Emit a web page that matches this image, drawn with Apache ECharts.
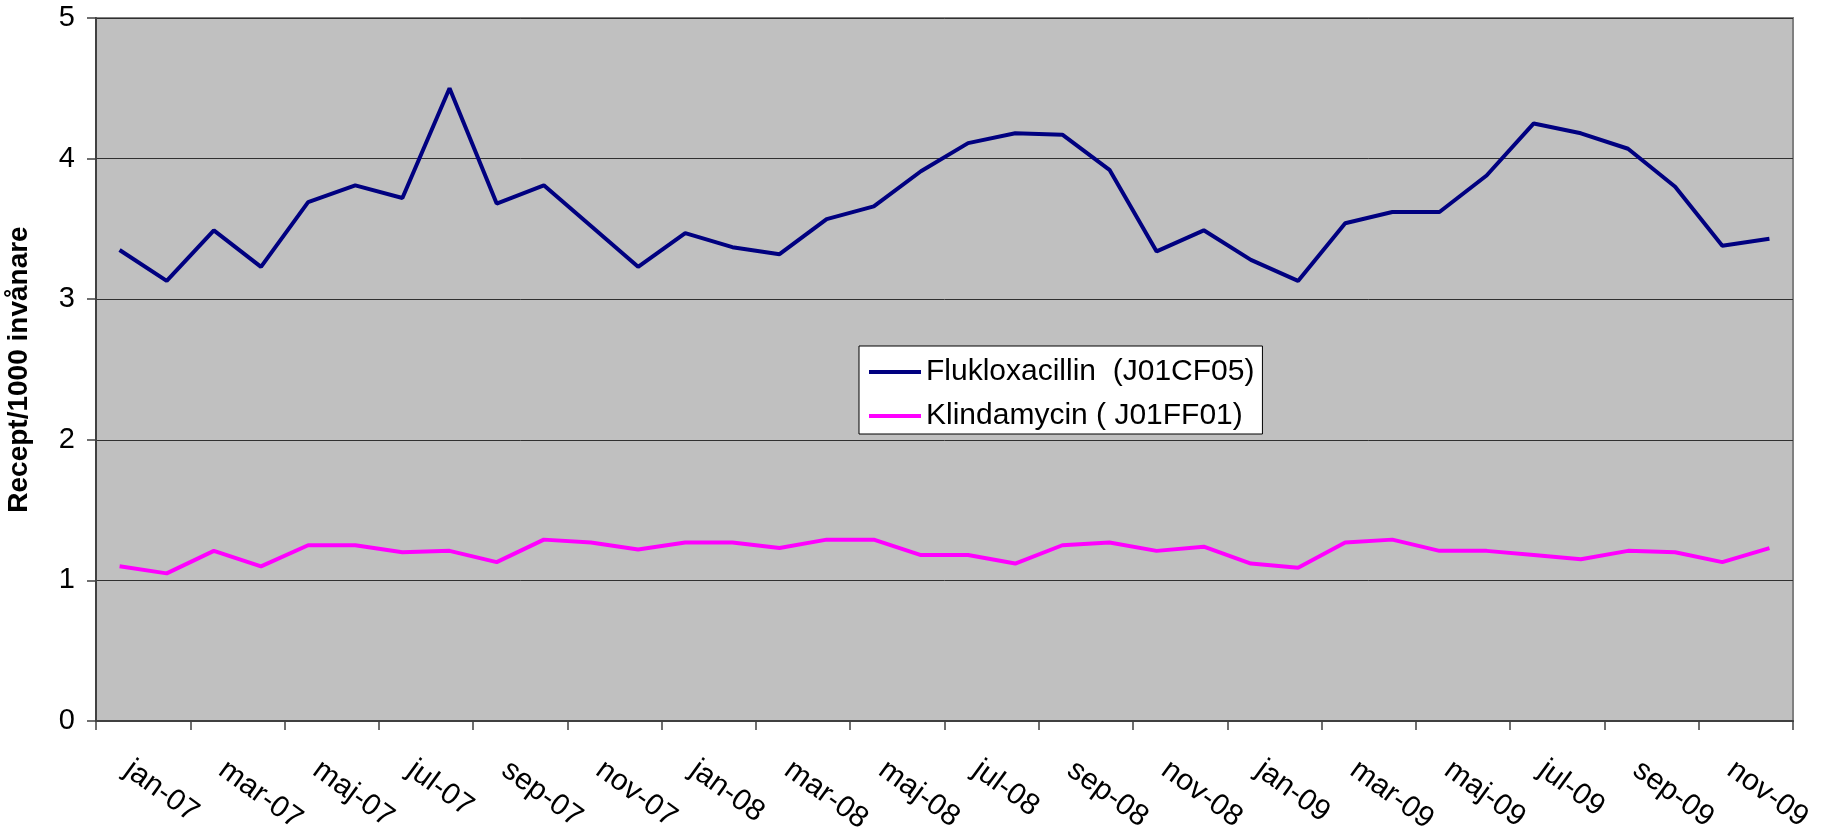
<!DOCTYPE html>
<html>
<head>
<meta charset="utf-8">
<script src="https://cdn.jsdelivr.net/npm/echarts@6/dist/echarts.min.js"></script>
<style>
html,body{margin:0;padding:0;background:#fff;}
#chart{width:1825px;height:832px;}
</style>
</head>
<body>
<div id="chart"></div>
<script>
const months = ['jan','feb','mar','apr','maj','jun','jul','aug','sep','okt','nov','dec'];
const years = ['07','08','09'];
const categories = [];
years.forEach(y => months.forEach(m => categories.push(m + '-' + y)));

const flukloxacillin = [3.35,3.13,3.49,3.23,3.69,3.81,3.72,4.50,3.68,3.81,3.52,3.23,
                        3.47,3.37,3.32,3.57,3.66,3.91,4.11,4.18,4.17,3.92,3.34,3.49,
                        3.28,3.13,3.54,3.62,3.62,3.88,4.25,4.18,4.07,3.80,3.38,3.43];
const klindamycin = [1.10,1.05,1.21,1.10,1.25,1.25,1.20,1.21,1.13,1.29,1.27,1.22,
                     1.27,1.27,1.23,1.29,1.29,1.18,1.18,1.12,1.25,1.27,1.21,1.24,
                     1.12,1.09,1.27,1.29,1.21,1.21,1.18,1.15,1.21,1.20,1.13,1.23];
const seriesNames = ['Flukloxacillin  (J01CF05)', 'Klindamycin ( J01FF01)'];
const yTitle = 'Recept/1000 invånare';

const FONT = '"Liberation Sans", Arial, sans-serif';
const chart = echarts.init(document.getElementById('chart'), null, {renderer: 'canvas'});
chart.setOption({
  animation: false,
  backgroundColor: '#ffffff',
  grid: {
    left: 96, top: 18, right: 32, bottom: 111,
    containLabel: false,
    outerBoundsMode: 'none',
    show: true, backgroundColor: '#C0C0C0', borderColor: '#808080', borderWidth: 2
  },
  legend: {
    left: 859, top: 346,
    orient: 'vertical',
    backgroundColor: '#ffffff',
    borderColor: '#000000', borderWidth: 1,
    padding: [8, 8, 0, 10],
    itemGap: 8,
    itemWidth: 52, itemHeight: 4,
    icon: 'rect',
    textStyle: {fontFamily: FONT, fontSize: 30, color: '#000', lineHeight: 36},
    data: seriesNames
  },
  xAxis: {
    type: 'category',
    data: categories,
    boundaryGap: true,
    axisLine: {show: true, lineStyle: {color: '#404040', width: 2}},
    axisTick: {show: true, interval: 1, length: 9, lineStyle: {color: '#404040', width: 1.5}},
    axisLabel: {
      interval: 1, rotate: -36, margin: 40,
      fontFamily: FONT, fontSize: 30, color: '#000',
      padding: [0, 0, 0, 10]
    },
    splitLine: {show: false}
  },
  yAxis: {
    type: 'value',
    min: 0, max: 5, interval: 1,
    name: yTitle,
    nameLocation: 'middle',
    nameGap: 63,
    nameTextStyle: {fontFamily: FONT, fontSize: 28, fontWeight: 'bold', color: '#000'},
    axisLine: {show: true, lineStyle: {color: '#404040', width: 2}},
    axisTick: {show: true, length: 9, lineStyle: {color: '#404040', width: 1.5}},
    axisLabel: {margin: 21, fontFamily: FONT, fontSize: 29, color: '#000'},
    splitLine: {show: true, lineStyle: {color: '#303030', width: 1}}
  },
  series: [
    {
      name: seriesNames[0], type: 'line', data: flukloxacillin,
      symbol: 'none', smooth: false,
      lineStyle: {color: '#000080', width: 4},
      itemStyle: {color: '#000080'}
    },
    {
      name: seriesNames[1], type: 'line', data: klindamycin,
      symbol: 'none', smooth: false,
      lineStyle: {color: '#FF00FF', width: 4},
      itemStyle: {color: '#FF00FF'}
    }
  ]
});
</script>
</body>
</html>
